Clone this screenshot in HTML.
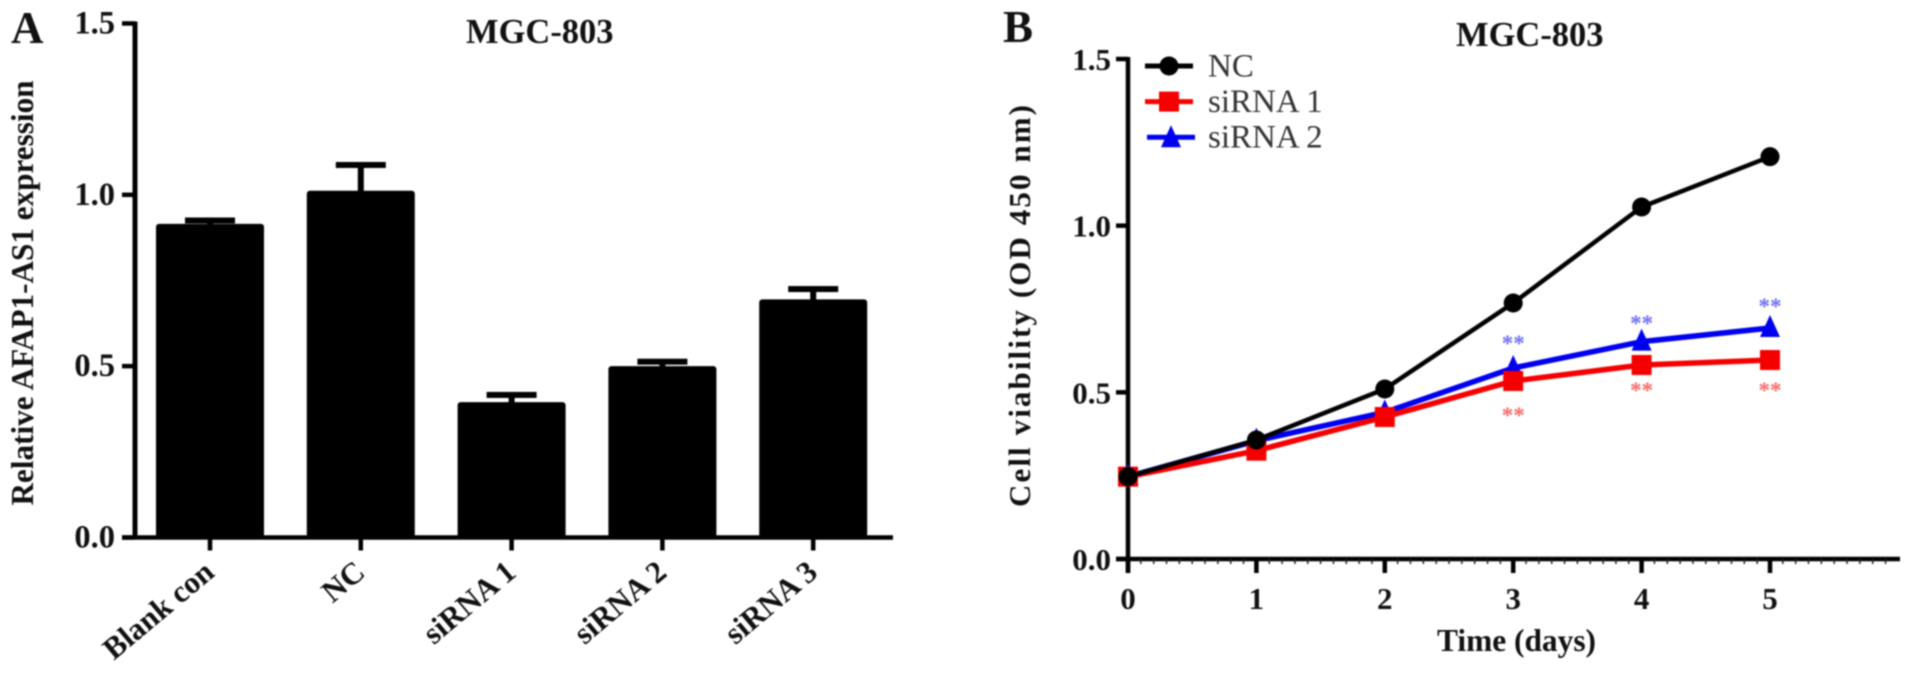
<!DOCTYPE html>
<html lang="en">
<head>
<meta charset="utf-8">
<title>MGC-803 AFAP1-AS1 expression and cell viability</title>
<style>
html,body{margin:0;padding:0;background:#fff;width:1913px;height:679px;overflow:hidden}
svg{display:block;filter:blur(0.8px)}
text{font-family:"Liberation Serif",serif;fill:#111}
.b{font-weight:bold}
</style>
</head>
<body>
<svg id="chart" xmlns="http://www.w3.org/2000/svg" width="1913" height="679" viewBox="0 0 1913 679">
  <rect width="1913" height="679" fill="#fff"/>
  <text class="b" x="11" y="43" font-size="45">A</text>
  <text class="b" x="466" y="43" font-size="34.5">MGC-803</text>
  <text class="b" font-size="31.2" text-anchor="middle" transform="translate(33 293) rotate(-90)">Relative AFAP1-AS1 expression</text>
  <text class="b" x="1003" y="42" font-size="45">B</text>
  <text class="b" x="1456" y="46" font-size="34.5">MGC-803</text>
  <text class="b" font-size="31" text-anchor="middle" textLength="402" lengthAdjust="spacing" transform="translate(1030 306) rotate(-90)">Cell viability (OD 450 nm)</text>
  <text class="b" x="1437" y="651" font-size="31.4">Time (days)</text>
  <g id="panelA"></g>
  <g id="panelB"></g>
  <g id="legend"></g>
</svg>
<script>
// Panel A data
const barCategories = ['Blank con', 'NC', 'siRNA 1', 'siRNA 2', 'siRNA 3'];
const barValues = [0.915, 1.012, 0.395, 0.5, 0.695];
const barErrorTops = [0.925, 1.087, 0.416, 0.513, 0.725];
const barYTicks = [0, 0.5, 1.0, 1.5];
const barYTickLabels = ['0.0', '0.5', '1.0', '1.5'];

// Panel B data
const days = [0, 1, 2, 3, 4, 5];
const seriesNC = [0.247, 0.357, 0.51, 0.768, 1.056, 1.207];
const seriesSi1 = [0.247, 0.325, 0.426, 0.534, 0.582, 0.597];
const seriesSi2 = [0.247, 0.355, 0.44, 0.573, 0.652, 0.693];
const lineYTicks = [0, 0.5, 1.0, 1.5];
const lineYTickLabels = ['0.0', '0.5', '1.0', '1.5'];
const lineXTickLabels = ['0', '1', '2', '3', '4', '5'];
const sigDays = [3, 4, 5];
const sigLevelsSi2 = [0.66, 0.72, 0.771];
const sigLevelsSi1 = [0.444, 0.519, 0.519];

const NS = 'http://www.w3.org/2000/svg';
function make(tag, attrs, parent) {
  const el = document.createElementNS(NS, tag);
  for (const k in attrs) el.setAttribute(k, attrs[k]);
  parent.appendChild(el);
  return el;
}

// Panel A axes
const ax = i => 210 + i * 150.8;
const ay = v => 537.5 - v * 342.7;
const A = document.getElementById('panelA');
barValues.forEach((v, i) => {
  const stem = make('rect', {x: ax(i) - 3, y: ay(barErrorTops[i]), width: 6, height: ay(v) - ay(barErrorTops[i]) + 2, fill: '#000'}, A);
  
  
  const cap = make('rect', {x: ax(i) - 25, y: ay(barErrorTops[i]) - 3, width: 50, height: 6, fill: '#000'}, A);
  
  
  const bar = make('rect', {x: ax(i) - 54, y: ay(v), width: 108, height: ay(0) - ay(v), rx: 3, fill: '#000'}, A);
  
  
  const tick = make('line', {x1: ax(i), x2: ax(i), y1: ay(0), y2: ay(0) + 13, stroke: '#000', 'stroke-width': 4.5}, A);
  
  
  const lab = make('text', {'font-size': 31, 'text-anchor': 'end', 'class': 'b', transform: 'translate(' + (ax(i) + 6) + ' 575) rotate(-40)'}, A);
  
  
  lab.textContent = barCategories[i];
});
const aYAxis = make('line', {x1: 135, x2: 135, y1: ay(1.5) - 2, y2: ay(0) + 2, stroke: '#000', 'stroke-width': 5}, A);


const aXAxis = make('line', {x1: 122, x2: 893, y1: ay(0), y2: ay(0), stroke: '#000', 'stroke-width': 4.5}, A);


barYTicks.forEach((t, i) => {
  const tick = make('line', {x1: 122, x2: 135, y1: ay(t), y2: ay(t), stroke: '#000', 'stroke-width': 4.5}, A);
  
  
  const lab = make('text', {x: 115, y: ay(t) + 10, 'font-size': 32.5, 'text-anchor': 'end', 'class': 'b'}, A);
  
  
  lab.textContent = barYTickLabels[i];
});

// Panel B axes
const bx = d => 1128 + d * 128.4;
const by = v => 559 - v * 333.33;
const B = document.getElementById('panelB');
const bYAxis = make('line', {x1: bx(0), x2: bx(0), y1: by(1.5) - 2, y2: 573, stroke: '#000', 'stroke-width': 4.5}, B);


const bXAxis = make('line', {x1: 1116, x2: 1900, y1: by(0), y2: by(0), stroke: '#000', 'stroke-width': 4.5}, B);


lineYTicks.forEach((t, i) => {
  const tick = make('line', {x1: 1116, x2: bx(0), y1: by(t), y2: by(t), stroke: '#000', 'stroke-width': 4.5}, B);
  
  
  const lab = make('text', {x: 1111, y: by(t) + 11, 'font-size': 31, 'text-anchor': 'end', 'class': 'b'}, B);
  
  
  lab.textContent = lineYTickLabels[i];
});
for (let m = 1; m < 60; m++) {
  const d = m / 10;
  if (bx(d) > 1898) break;
  const mt = make('line', {x1: bx(d), x2: bx(d), y1: by(0), y2: by(0) + 5, stroke: '#222', 'stroke-width': 1.5}, B);
  
  
}
days.forEach((d, i) => {
  const tick = make('line', {x1: bx(d), x2: bx(d), y1: by(0), y2: 573, stroke: '#000', 'stroke-width': 4.5}, B);
  
  
  const lab = make('text', {x: bx(d), y: 609, 'font-size': 31, 'text-anchor': 'middle', 'class': 'b'}, B);
  
  
  lab.textContent = lineXTickLabels[i];
});

function marker(kind, cx, cy, color, parent) {
  let el;
  if (kind === 'circle') {
    el = make('circle', {cx: cx, cy: cy, r: 9.5, fill: color}, parent);
  } else if (kind === 'square') {
    el = make('rect', {x: cx - 10, y: cy - 10, width: 20, height: 20, fill: color}, parent);
  } else {
    el = make('path', {d: 'M' + cx + ' ' + (cy - 13) + 'L' + (cx + 10) + ' ' + (cy + 9) + 'L' + (cx - 10) + ' ' + (cy + 9) + 'Z', fill: color}, parent);
  }
  return el;
}
function drawSeries(values, color, kind, name, width) {
  const pts = values.map((v, i) => bx(days[i]) + ',' + by(v)).join(' ');
  const line = make('polyline', {points: pts, fill: 'none', stroke: color, 'stroke-width': width, 'stroke-linejoin': 'round'}, B);
  
  
  values.forEach((v, i) => {
    const m = marker(kind, bx(days[i]), by(v), color, B);
    
    
  });
}
drawSeries(seriesSi2, '#0000f0', 'triangle', 'sirna-2', 5.5);
drawSeries(seriesSi1, '#f50000', 'square', 'sirna-1', 5.5);
drawSeries(seriesNC, '#000', 'circle', 'nc', 4.5);

function drawStars(levels, color, name) {
  sigDays.forEach((d, i) => {
    const s = make('text', {x: bx(d), y: by(levels[i]) + 12, 'font-size': 23, 'font-weight': 'bold', 'text-anchor': 'middle', style: 'fill:' + color}, B);
    
    
    s.textContent = '**';
  });
}
drawStars(sigLevelsSi2, '#6f6ff2', 'sirna-2-significance');
drawStars(sigLevelsSi1, '#f56a6a', 'sirna-1-significance');

// Legend
const legendLabels = ['NC', 'siRNA 1', 'siRNA 2'];
const legendColors = ['#000', '#f50000', '#0000f0'];
const legendKinds = ['circle', 'square', 'triangle'];
const L = document.getElementById('legend');
legendLabels.forEach((t, i) => {
  const y = 66 + i * 35.6;
  const x0 = i === 2 ? 1147 : 1145;
  const sw = make('line', {x1: x0, x2: x0 + 48, y1: y, y2: y, stroke: legendColors[i], 'stroke-width': 5}, L);
  
  
  const m = marker(legendKinds[i], x0 + 24, y + (i === 2 ? 1 : 0), legendColors[i], L);
  
  
  const lab = make('text', {x: 1208, y: y + 10.5, 'font-size': 33, style: 'fill:#333'}, L);
  
  
  lab.textContent = t;
});
</script>
</body>
</html>
